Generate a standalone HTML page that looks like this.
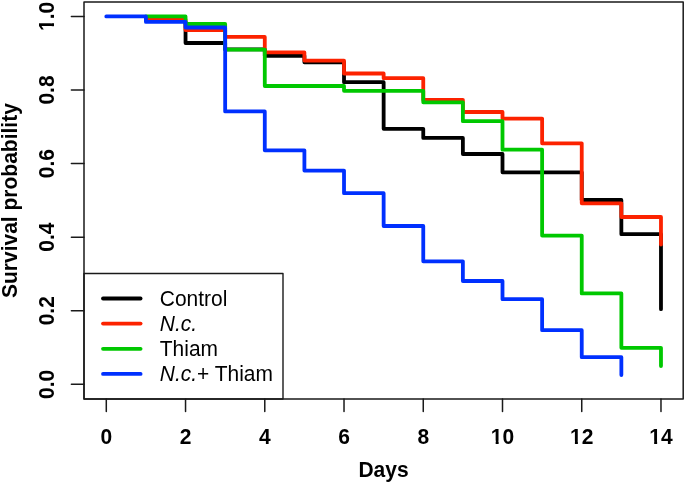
<!DOCTYPE html>
<html><head><meta charset="utf-8"><style>
html,body{margin:0;padding:0;background:#fff;width:685px;height:483px;overflow:hidden}
svg{display:block;will-change:transform}
text{font-family:"Liberation Sans",sans-serif}
</style></head><body>
<svg width="685" height="483" viewBox="0 0 685 483">
<rect width="685" height="483" fill="#fff"/>
<g fill="none" stroke-width="3.8" stroke-linecap="round" stroke-linejoin="round">
<path d="M185.54 22.00 H185.54 V43.00 H225.16 V49.30 H264.78 V55.80 H304.40 V62.30 H344.02 V82.20 H383.64 V128.80 H423.26 V137.90 H462.88 V154.00 H502.50 V172.30 H581.74 V200.00 H621.36 V234.20 H660.98 V309.20" stroke="#000000"/>
<path d="M145.92 19.50 H185.54 V30.00 H225.16 V36.90 H264.78 V52.40 H304.40 V60.60 H344.02 V73.50 H383.64 V78.20 H423.26 V99.80 H462.88 V112.00 H502.50 V118.60 H542.12 V143.30 H581.74 V203.30 H621.36 V217.00 H660.98 V244.50" stroke="#FC2200"/>
<path d="M145.92 16.40 H185.54 V24.00 H225.16 V49.60 H264.78 V86.00 H344.02 V90.80 H423.26 V102.30 H462.88 V121.20 H502.50 V149.70 H542.12 V235.60 H581.74 V293.40 H621.36 V347.80 H660.98 V366.00" stroke="#00C800"/>
<path d="M106.30 16.40 H145.92 V21.90 H185.54 V27.50 H225.16 V111.40 H264.78 V150.30 H304.40 V170.60 H344.02 V193.20 H383.64 V226.00 H423.26 V261.30 H462.88 V281.00 H502.50 V299.20 H542.12 V330.20 H581.74 V357.20 H621.36 V375.00" stroke="#0030FF"/>
</g>
<rect x="84" y="273.5" width="199" height="125.5" fill="#fff" stroke="#1a1a1a" stroke-width="1.4" stroke-linejoin="round"/><line x1="103" y1="298.5" x2="140.6" y2="298.5" stroke="#000000" stroke-width="3.8" stroke-linecap="round"/><line x1="103" y1="323.6" x2="140.6" y2="323.6" stroke="#FC2200" stroke-width="3.8" stroke-linecap="round"/><line x1="103" y1="348.8" x2="140.6" y2="348.8" stroke="#00C800" stroke-width="3.8" stroke-linecap="round"/><line x1="103" y1="373.9" x2="140.6" y2="373.9" stroke="#0030FF" stroke-width="3.8" stroke-linecap="round"/><text transform="translate(159.8 306.4) scale(0.975 1)" font-size="21.5">Control</text><text transform="translate(159.8 331.3) scale(0.975 1)" font-size="21.5"><tspan font-style="italic">N.c.</tspan></text><text transform="translate(159.8 356.4) scale(0.975 1)" font-size="21.5">Thiam</text><text transform="translate(159.8 381.3) scale(0.975 1)" font-size="21.5"><tspan font-style="italic">N.c.</tspan>+ Thiam</text>
<rect x="84" y="2" width="599.2" height="397" fill="none" stroke="#1a1a1a" stroke-width="1.5" stroke-linejoin="round"/>
<g stroke="#1a1a1a" stroke-width="1.5" stroke-linecap="round"><line x1="106.30" y1="399" x2="106.30" y2="411.4"/><line x1="185.54" y1="399" x2="185.54" y2="411.4"/><line x1="264.78" y1="399" x2="264.78" y2="411.4"/><line x1="344.02" y1="399" x2="344.02" y2="411.4"/><line x1="423.26" y1="399" x2="423.26" y2="411.4"/><line x1="502.50" y1="399" x2="502.50" y2="411.4"/><line x1="581.74" y1="399" x2="581.74" y2="411.4"/><line x1="660.98" y1="399" x2="660.98" y2="411.4"/><line x1="71.4" y1="384.35" x2="84" y2="384.35"/><line x1="71.4" y1="310.77" x2="84" y2="310.77"/><line x1="71.4" y1="237.19" x2="84" y2="237.19"/><line x1="71.4" y1="163.61" x2="84" y2="163.61"/><line x1="71.4" y1="90.03" x2="84" y2="90.03"/><line x1="71.4" y1="16.45" x2="84" y2="16.45"/></g>
<g font-weight="bold" font-size="22" fill="#000"><g transform="translate(106.30 444.20) scale(0.955 1)"><text x="0" y="0" text-anchor="middle">0</text></g><g transform="translate(185.54 444.20) scale(0.955 1)"><text x="0" y="0" text-anchor="middle">2</text></g><g transform="translate(264.78 444.20) scale(0.955 1)"><text x="0" y="0" text-anchor="middle">4</text></g><g transform="translate(344.02 444.20) scale(0.955 1)"><text x="0" y="0" text-anchor="middle">6</text></g><g transform="translate(423.26 444.20) scale(0.955 1)"><text x="0" y="0" text-anchor="middle">8</text></g><g transform="translate(502.50 444.20) scale(0.955 1)"><text x="0" y="0" text-anchor="middle">10</text><rect x="-11.55" y="-3.55" width="4.40" height="4.75" fill="#fff"/><rect x="-4.03" y="-3.55" width="4.12" height="4.75" fill="#fff"/></g><g transform="translate(581.74 444.20) scale(0.955 1)"><text x="0" y="0" text-anchor="middle">12</text><rect x="-11.55" y="-3.55" width="4.40" height="4.75" fill="#fff"/><rect x="-4.03" y="-3.55" width="4.12" height="4.75" fill="#fff"/></g><g transform="translate(660.98 444.20) scale(0.955 1)"><text x="0" y="0" text-anchor="middle">14</text><rect x="-11.55" y="-3.55" width="4.40" height="4.75" fill="#fff"/><rect x="-4.03" y="-3.55" width="4.12" height="4.75" fill="#fff"/></g><g transform="translate(54.20 384.35) rotate(-90) scale(0.955 1)"><text x="0" y="0" text-anchor="middle">0.0</text></g><g transform="translate(54.20 310.77) rotate(-90) scale(0.955 1)"><text x="0" y="0" text-anchor="middle">0.2</text></g><g transform="translate(54.20 237.19) rotate(-90) scale(0.955 1)"><text x="0" y="0" text-anchor="middle">0.4</text></g><g transform="translate(54.20 163.61) rotate(-90) scale(0.955 1)"><text x="0" y="0" text-anchor="middle">0.6</text></g><g transform="translate(54.20 90.03) rotate(-90) scale(0.955 1)"><text x="0" y="0" text-anchor="middle">0.8</text></g><g transform="translate(54.20 16.45) rotate(-90) scale(0.955 1)"><text x="0" y="0" text-anchor="middle">1.0</text><rect x="-14.61" y="-3.55" width="4.40" height="4.75" fill="#fff"/><rect x="-7.09" y="-3.55" width="4.12" height="4.75" fill="#fff"/></g></g>
<g font-size="21.5" fill="#000">
</g>
<text transform="translate(383.5 476.6) scale(0.955 1)" text-anchor="middle" font-weight="bold" font-size="22">Days</text>
<text transform="translate(16.7 200.6) rotate(-90) scale(0.955 1)" text-anchor="middle" font-weight="bold" font-size="22">Survival probability</text>
</svg>
</body></html>
